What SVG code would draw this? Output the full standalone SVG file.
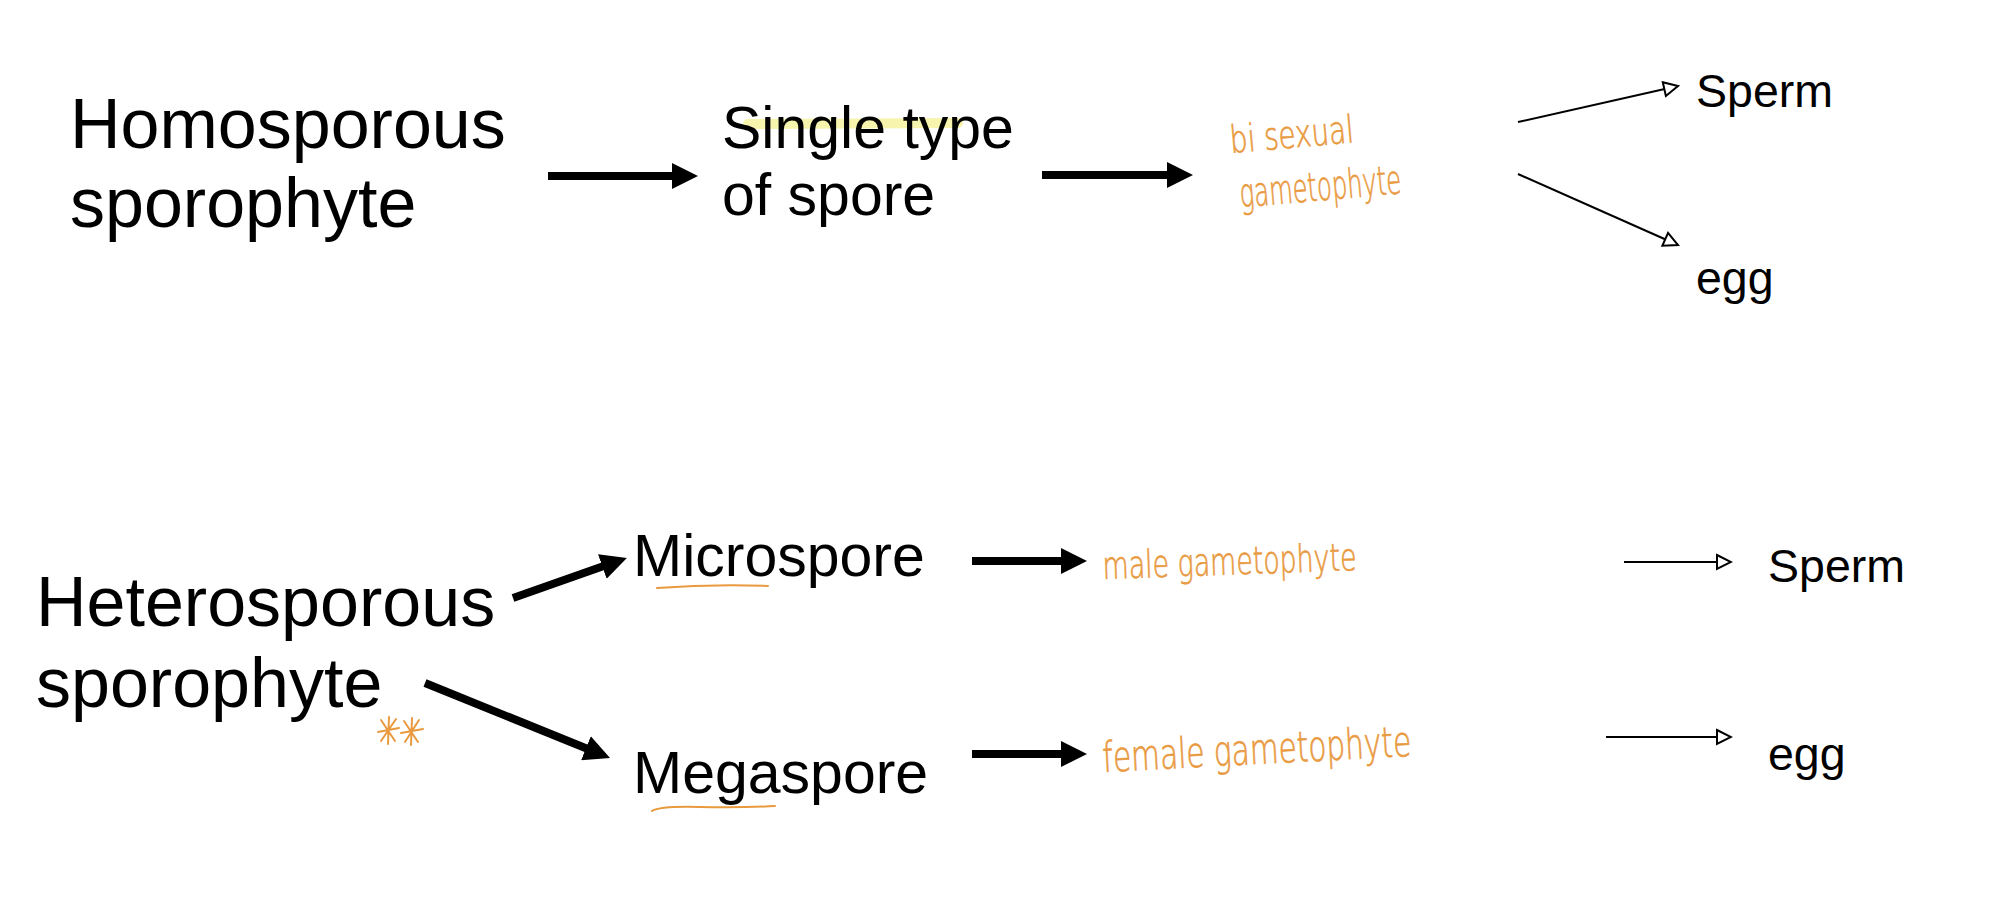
<svg xmlns="http://www.w3.org/2000/svg" width="2004" height="903" viewBox="0 0 2004 903">
  <style>
    .t { font-family: "Liberation Sans", Arial, sans-serif; fill: #000; }
    .big { font-size: 70px; }
    .mid { font-size: 59px; }
    .sm { font-size: 46.5px; }
    .hand { font-family: "DejaVu Sans", "Noto Sans", sans-serif; font-weight: 200; fill: #E99A3F; stroke: #E99A3F; stroke-width: 0.7; }
    .thick { stroke: #000; stroke-width: 8; fill: none; marker-end: url(#headThick); }
    .thin { stroke: #000; stroke-width: 2; fill: none; marker-end: url(#headOpen); }
    .ul { stroke: #E99A3F; stroke-width: 2; fill: none; stroke-linecap: round; }
  </style>
  <defs>
    <marker id="headThick" markerUnits="userSpaceOnUse" viewBox="0 0 26 26" refX="6" refY="13" markerWidth="26" markerHeight="26" orient="auto">
      <path d="M0,0 L26,13 L0,26 Z" fill="#000"/>
    </marker>
    <marker id="headOpen" markerUnits="userSpaceOnUse" viewBox="-2 -2 18 18" refX="14" refY="7" markerWidth="18" markerHeight="18" orient="auto">
      <path d="M0,0 L14,7 L0,14 Z" fill="#fff" stroke="#000" stroke-width="2" stroke-linejoin="miter"/>
    </marker>
  </defs>
  <rect width="2004" height="903" fill="#fff"/>

  <g id="connectors">
    <line class="thick" x1="548" y1="176" x2="678" y2="176"/>
    <line class="thick" x1="1042" y1="175" x2="1173" y2="175"/>
    <line class="thin" x1="1518" y1="122" x2="1678" y2="86"/>
    <line class="thin" x1="1518" y1="174" x2="1678" y2="245"/>
    <line class="thick" x1="513" y1="598" x2="608" y2="564.6"/>
    <line class="thick" x1="425" y1="683" x2="591.5" y2="750.5"/>
    <line class="thick" x1="972" y1="561" x2="1067" y2="561"/>
    <line class="thick" x1="972" y1="754" x2="1067" y2="754"/>
    <line class="thin" x1="1624" y1="562" x2="1731" y2="562"/>
    <line class="thin" x1="1606" y1="737" x2="1731" y2="737"/>
  </g>

  <g id="homosporous">
    <text class="t big" x="70" y="148">Homosporous</text>
    <text class="t big" x="70" y="227">sporophyte</text>
  </g>

  <g id="single-type">
    <path d="M748,124 L958,123" stroke="#F4F08A" stroke-opacity="0.7" stroke-width="10" stroke-linecap="round" fill="none"/>
    <text class="t mid" x="722" y="148">Single type</text>
    <text class="t mid" x="722" y="215">of spore</text>
  </g>

  <g id="bisexual-gametophyte" transform="rotate(-5 1231 152)">
    <text class="hand" x="1231" y="153" font-size="38" textLength="124" lengthAdjust="spacingAndGlyphs">bi sexual</text>
    <text class="hand" x="1236" y="208" font-size="40" textLength="162" lengthAdjust="spacingAndGlyphs">gametophyte</text>
  </g>

  <g id="sperm-top">
    <text class="t sm" x="1696" y="107">Sperm</text>
  </g>
  <g id="egg-top">
    <text class="t sm" x="1696" y="294">egg</text>
  </g>

  <g id="heterosporous">
    <text class="t big" x="36" y="626">Heterosporous</text>
    <text class="t big" x="36" y="707">sporophyte</text>
    <g class="ul">
      <path d="M381,720 L395,741 M396,719 L381,741 M378,732 L399,728 M389,717 L388,744"/>
      <path d="M404,721 L418,742 M419,720 L405,742 M401,733 L423,729 M412,718 L411,745"/>
    </g>
  </g>

  <g id="microspore">
    <text class="t mid" x="633" y="576">Microspore</text>
    <path class="ul" d="M657,588 Q712,584 768,586"/>
  </g>

  <g id="megaspore">
    <text class="t mid" x="633" y="793">Megaspore</text>
    <path class="ul" d="M652,811 Q660,806 700,807 Q740,808 775,806"/>
  </g>

  <g id="male-gametophyte" transform="rotate(-2 1103 577)">
    <text class="hand" x="1103" y="579" font-size="38" textLength="254" lengthAdjust="spacingAndGlyphs">male  gametophyte</text>
  </g>

  <g id="female-gametophyte" transform="rotate(-3 1103 767)">
    <text class="hand" x="1103" y="772" font-size="42" textLength="309" lengthAdjust="spacingAndGlyphs">female  gametophyte</text>
  </g>

  <g id="sperm-bottom">
    <text class="t sm" x="1768" y="582">Sperm</text>
  </g>
  <g id="egg-bottom">
    <text class="t sm" x="1768" y="770">egg</text>
  </g>
</svg>
